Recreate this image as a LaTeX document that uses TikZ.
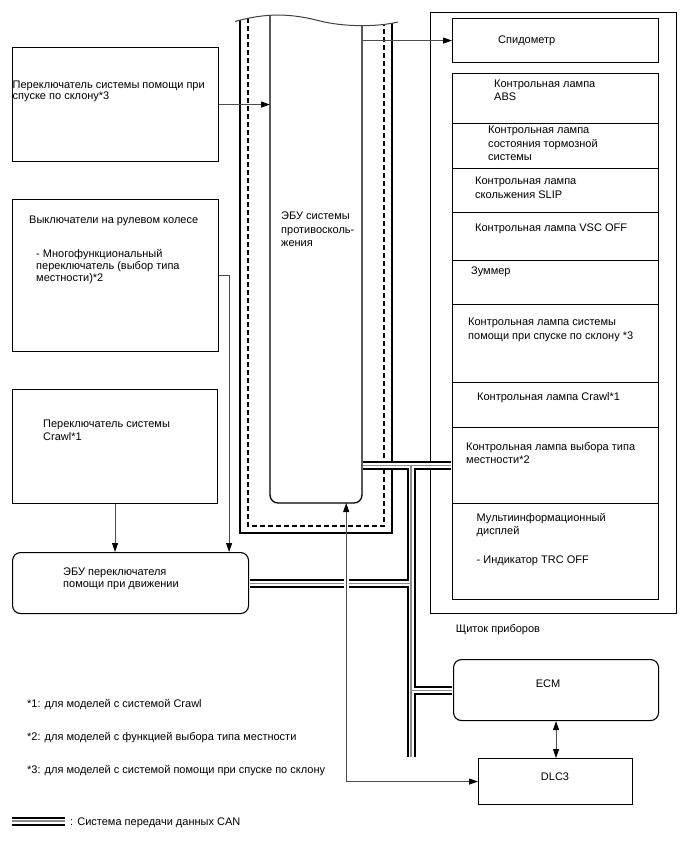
\documentclass[tikz,border=0pt]{standalone}
\usepackage{fontspec}
\setmainfont{Liberation Sans}
\usetikzlibrary{arrows.meta,calc}
\begin{document}
\begin{tikzpicture}[x=1pt,y=-1pt,
  box/.style={draw, line width=1.1pt, inner sep=0, anchor=north west},
  rbox/.style={box, rounded corners=8pt},
  txt/.style={inner sep=0, anchor=north west, align=left, font=\fontsize{11}{13.3}\selectfont},
  txtl/.style={txt, font=\fontsize{11}{11.8}\selectfont},
  btxt/.style={inner sep=0, anchor=base, font=\fontsize{11}{13.3}\selectfont},
  ftxt/.style={inner sep=0, anchor=base west, font=\fontsize{11}{13.3}\selectfont},
  thin/.style={draw=black!70, line width=0.9pt},
  arr/.style={thin, -{Triangle[length=9pt,width=6pt,black]}},
  darr/.style={thin, {Triangle[length=9pt,width=6pt,black]}-{Triangle[length=9pt,width=6pt,black]}},
  ulin/.style={line width=1.3pt},
  dashline/.style={line width=1.2pt, dash pattern=on 5pt off 3pt}
]
\useasboundingbox (0,0) rectangle (688,852);

% left boxes
\node[box, minimum width=206, minimum height=114] (hill) at (12,47) {};
\node[box, minimum width=206, minimum height=152] (steer) at (12,199) {};
\node[box, minimum width=205, minimum height=114] (crawl) at (12,389) {};
\node[rbox, minimum width=236, minimum height=61] (assist) at (12,552) {};

\node[txtl] (hillt) at (12.5,80.4) {Переключатель системы помощи при\\спуске по склону*3};
\node[txt] (steert) at (29,216.1) {Выключатели на рулевом колесе};
\node[txtl] (steert2) at (36,249.4) {- Многофункциональный\\переключатель (выбор типа\\местности)*2};
\node[txt] (crawlt) at (43,419.4) {Переключатель системы\\Crawl*1};
\node[txtl] (assistt) at (63,568.1) {ЭБУ переключателя\\помощи при движении};

% instrument panel
\node[box, minimum width=246, minimum height=601] (panel) at (430,12) {};
\node[box, minimum width=206, minimum height=44] (speedo) at (452,18) {};
\node[box, minimum width=206, minimum height=50] (abs) at (452,73) {};
\node[box, minimum width=206, minimum height=45] (brake) at (452,123) {};
\node[box, minimum width=206, minimum height=44] (slip) at (452,168) {};
\node[box, minimum width=206, minimum height=48] (vsc) at (452,212) {};
\node[box, minimum width=206, minimum height=44] (buzz) at (452,260) {};
\node[box, minimum width=206, minimum height=78] (hlamp) at (452,304) {};
\node[box, minimum width=206, minimum height=45] (clamp) at (452,382) {};
\node[box, minimum width=206, minimum height=76] (tlamp) at (452,427) {};
\node[box, minimum width=206, minimum height=96] (mid) at (452,503) {};

\node[txt] (speedot) at (498,35.4) {Спидометр};
\node[txt] (abst) at (494,79.4) {Контрольная лампа\\ABS};
\node[txt] (braket) at (488,126.1) {Контрольная лампа\\состояния тормозной\\системы};
\node[txt] (slipt) at (475,177.1) {Контрольная лампа\\скольжения SLIP};
\node[txt] (vsct) at (475,223.8) {Контрольная лампа VSC OFF};
\node[txt] (buzzt) at (471,267.1) {Зуммер};
\node[txt] (hlampt) at (468,318.1) {Контрольная лампа системы\\помощи при спуске по склону *3};
\node[txt] (clampt) at (477,392.1) {Контрольная лампа Crawl*1};
\node[txt] (tlampt) at (466,442.1) {Контрольная лампа выбора типа\\местности*2};
\node[txt] (midt) at (476.5,512.8) {Мультиинформационный\\дисплей\\[15.7pt]- Индикатор TRC OFF};
\node[btxt] (panelt) at (498,632) {Щиток приборов};

% ECM and DLC3
\node[rbox, minimum width=205, minimum height=61] (ecm) at (453,659) {};
\node[box, minimum width=154, minimum height=46] (dlc) at (478,758) {};
\node[btxt] (ecmt) at (548,687) {ECM};
\node[btxt] (dlct) at (555,780) {DLC3};

% skid control ECU (column with wavy top)
\node[inner sep=0, minimum width=92, minimum height=480, anchor=south west] (ecu) at (270,503) {};
\draw[ulin] (240,10) -- (240,533) -- (392,533) -- (392,10);
\draw[dashline] (248,10) -- (248,526) -- (384,526) -- (384,10);
\draw[ulin, rounded corners=8pt] (270,10) -- (270,503) -- (362,503) -- (362,10);
\fill[white] (228,4) -- (228,21.5) -- (235,21.5) .. controls (265,13) and (290,13) .. (320,21) .. controls (342,26.5) and (375,27.5) .. (398,22) -- (404,22) -- (404,4) -- cycle;
\draw[line width=1pt, black!75] (235,21.5) .. controls (265,13) and (290,13) .. (320,21) .. controls (342,26.5) and (375,27.5) .. (398,22);
\node[txt] (ecut) at (281,212.1) {ЭБУ системы\\противосколь-\\жения};

% CAN bus
\coordinate (bt) at (411,465);
\coordinate (bb) at (411,757);
\coordinate (lgA) at (12,821);
\coordinate (lgB) at (65,821);
\foreach \w/\c in {9/black,5/white,1.1/black!45} {
  \draw[line width=\w, draw=\c] ([xshift=0.55pt]tlamp.west -| ecu.east) -- ([xshift=-0.55pt]tlamp.west);
  \draw[line width=\w, draw=\c] (bt) -- (bb);
  \draw[line width=\w, draw=\c] ([xshift=0.55pt]assist.east) -- (assist.east -| bb);
  \draw[line width=\w, draw=\c] (ecm.west -| bb) -- ([xshift=-0.55pt]ecm.west);
  \draw[line width=\w, draw=\c] (lgA) -- (lgB);
}
\fill[white] (343.5,577.5) rectangle (348.5,588.5);

% signal connectors
\draw[arr] (hill.east) -- (hill.east -| ecu.west);
\draw[arr] (speedo.west -| ecu.east) -- (speedo.west);
\draw[arr] (steer.east) -| ([xshift=-20pt]assist.north east);
\draw[arr] (crawl.south) -- (crawl.south |- assist.north);
\draw[darr] ([xshift=30pt]ecu.south) |- (dlc.west);
\draw[darr] (ecm.south) -- (ecm.south |- dlc.north);

% footnotes
\node[ftxt] (fn1) at (27,707) {*1: для моделей с системой Crawl};
\node[ftxt] (fn2) at (27,740) {*2: для моделей с функцией выбора типа местности};
\node[ftxt] (fn3) at (27,773) {*3: для моделей с системой помощи при спуске по склону};
\node[ftxt] (lgt) at (70,825) {: Система передачи данных CAN};
\end{tikzpicture}
\end{document}
